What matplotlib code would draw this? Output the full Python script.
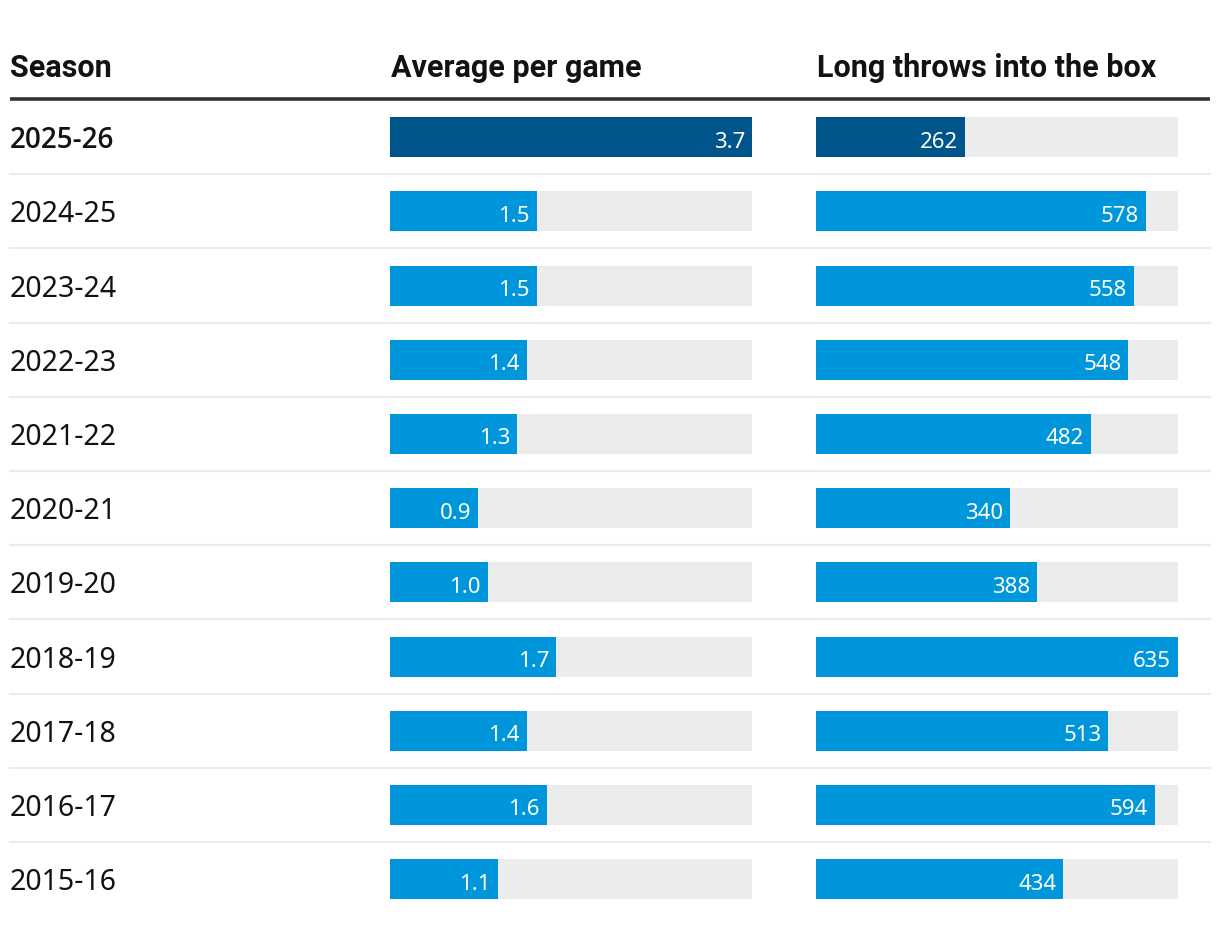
import matplotlib
matplotlib.use("Agg")
import matplotlib.pyplot as plt

###データ###
seasons = ["2025-26", "2024-25", "2023-24", "2022-23", "2021-22", "2020-21",
           "2019-20", "2018-19", "2017-18", "2016-17", "2015-16"]
avg_per_game = [3.7, 1.5, 1.5, 1.4, 1.3, 0.9, 1.0, 1.7, 1.4, 1.6, 1.1]
long_throws = [262, 578, 558, 548, 482, 340, 388, 635, 513, 594, 434]
headers = ["Season", "Average per game", "Long throws into the box"]
############

DARK = "#00568a"
BLUE = "#0096db"
TRACK = "#ececec"
FONT = ["Noto Sans", "DejaVu Sans"]
BOLD = ["Roboto", "DejaVu Sans"]
BOLD_ROW = ["Open Sans", "DejaVu Sans"]

W, H = 1220, 928
ROW0, STEP = 138.2, 74.2
n = len(seasons)

fig = plt.figure(figsize=(W / 100, H / 100), dpi=100)

###背景用のaxes (ピクセル座標)###
ax0 = fig.add_axes([0, 0, 1, 1])
ax0.set_xlim(0, W)
ax0.set_ylim(H, 0)
ax0.axis("off")

for x, h in zip([10, 391, 817], headers):
    ax0.text(x, 77, h, fontsize=22, fontweight="bold", color="#121212", family=BOLD)
ax0.plot([10, 1210], [100, 100], color="#333333", lw=2.6, solid_capstyle="butt")

for i, s in enumerate(seasons):
    y = ROW0 + STEP * i
    if i == 0:
        ax0.text(10, y + 10, s, fontsize=20, color="#121212", family=BOLD_ROW,
                 fontweight="semibold", va="baseline")
    else:
        ax0.text(10, y + 10, s, fontsize=20.5, color="#121212", family=FONT, va="baseline")
    if i < n - 1:
        ax0.plot([10, 1210], [y + 37, y + 37], color="#ebebeb", lw=1.5)

###棒グラフ###
top, bottom = ROW0 - STEP / 2, ROW0 + STEP * (n - 1) + STEP / 2


def bar_col(left, values, vmax, fmt):
    ax = fig.add_axes([left / W, (H - bottom) / H, 362 / W, (bottom - top) / H])
    ax.set_xlim(0, vmax)
    ax.set_ylim(n - 0.5, -0.5)
    ax.axis("off")
    ypos = list(range(n))
    ax.barh(ypos, [vmax] * n, height=40 / STEP, color=TRACK, linewidth=0)
    colors = [DARK] + [BLUE] * (n - 1)
    ax.barh(ypos, values, height=40 / STEP, color=colors, linewidth=0)
    pad = vmax * 7 / 362
    for i, v in enumerate(values):
        ax.text(v - pad, i + 9.5 / STEP, fmt.format(v), ha="right", va="baseline",
                color="white", fontsize=16, family=FONT)
    return ax


bar_col(390, avg_per_game, 3.7, "{:.1f}")
bar_col(816, long_throws, 635, "{:d}")

fig.savefig("out.png", dpi=100, facecolor="white")
